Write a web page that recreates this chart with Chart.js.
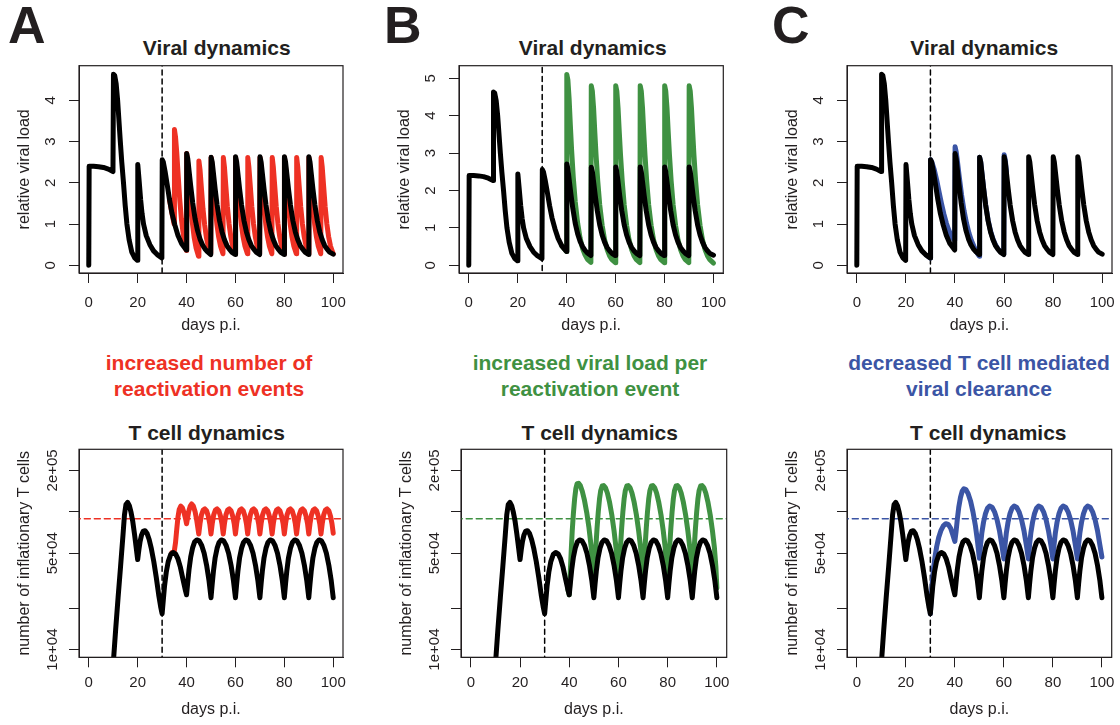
<!DOCTYPE html>
<html><head><meta charset="utf-8">
<script src="https://cdn.jsdelivr.net/npm/chart.js@4.4.1/dist/chart.umd.min.js"></script>
<style>
html,body{margin:0;padding:0;width:1120px;height:725px;overflow:hidden;background:#fff;font-family:"Liberation Sans",Arial,sans-serif;}
canvas{position:absolute;}
.t{position:absolute;font-weight:bold;color:#231f20;text-align:center;white-space:nowrap;}
.ttl{font-size:21px;line-height:25px;width:300px;}
.cap{font-size:21px;line-height:26px;width:360px;}
.let{font-size:52px;line-height:52px;text-align:left;}
</style></head><body>
<div class="t let" style="left:8px;top:-1px">A</div>
<div class="t let" style="left:384px;top:-1px">B</div>
<div class="t let" style="left:772px;top:-1px">C</div>
<div class="t ttl" style="left:66.7px;top:35.2px">Viral dynamics</div>
<div class="t ttl" style="left:442.8px;top:35.2px">Viral dynamics</div>
<div class="t ttl" style="left:834.2px;top:35.2px">Viral dynamics</div>
<div class="t ttl" style="left:56.7px;top:419.7px">T cell dynamics</div>
<div class="t ttl" style="left:449.7px;top:419.7px">T cell dynamics</div>
<div class="t ttl" style="left:838.3px;top:419.7px">T cell dynamics</div>
<div class="t cap" style="left:29px;top:349.7px;color:#ee3124">increased number of<br>reactivation events</div>
<div class="t cap" style="left:410px;top:349.7px;color:#3f9142">increased viral load per<br>reactivation event</div>
<div class="t cap" style="left:799px;top:349.7px;color:#3b55a5">decreased T cell mediated<br>viral clearance</div>
<canvas id="vA"></canvas><canvas id="vB"></canvas><canvas id="vC"></canvas>
<canvas id="tA"></canvas><canvas id="tB"></canvas><canvas id="tC"></canvas>
<script>
// ---------- axis ticks ----------
const xTickValues = [0, 20, 40, 60, 80, 100];
const viralTicksAC = [0, 1, 2, 3, 4];
const viralTicksB = [0, 1, 2, 3, 4, 5];
const tTickValues = [10000, 20000, 50000, 100000, 200000];
const tTickLabels = ['1e+04', '', '5e+04', '', '2e+05'];
const reactivationStart = [30];
const tThreshold = [89000];

// ---------- viral load, baseline model (black) ----------
const viralDays = [0,0.15,2,4,6,8,9.9,10.1,10.6,11.2,11.8,12.4,12.9,13.5,14.2,14.9,15.6,16.5,17.6,18.8,19.9,
 20.05,20.6,21.2,21.8,22.4,23.5,25,26.5,28,29.9,
 30.05,30.5,31.2,32.1,33,34,35.2,36.5,38,39.9,
 40.05,40.5,41,41.7,42.5,43.5,44.5,45.5,46.5,47.5,48.5,49.9,
 50.05,50.5,51,51.7,52.5,53.5,54.5,55.5,56.5,57.5,58.5,59.9,
 60.05,60.5,61,61.7,62.5,63.5,64.5,65.5,66.5,67.5,68.5,69.9,
 70.05,70.5,71,71.7,72.5,73.5,74.5,75.5,76.5,77.5,78.5,79.9,
 80.05,80.5,81,81.7,82.5,83.5,84.5,85.5,86.5,87.5,88.5,89.9,
 90.05,90.5,91,91.7,92.5,93.5,94.5,95.5,96.5,97.5,98.5,100];
const viralBaseline = [0,2.4,2.4,2.39,2.37,2.33,2.27,4.63,4.6,4.4,4.0,3.45,3.0,2.5,2.0,1.45,1.0,0.62,0.32,0.18,0.12,
 2.44,2.05,1.6,1.25,1.0,0.72,0.5,0.35,0.26,0.18,
 2.56,2.5,2.28,1.95,1.6,1.27,0.98,0.72,0.52,0.37,
 2.71,2.58,2.3,1.92,1.52,1.12,0.84,0.64,0.5,0.4,0.33,0.26,
 2.62,2.5,2.23,1.85,1.46,1.08,0.81,0.62,0.48,0.39,0.32,0.26,
 2.63,2.5,2.23,1.85,1.46,1.08,0.81,0.62,0.48,0.39,0.32,0.26,
 2.63,2.5,2.23,1.85,1.46,1.08,0.81,0.62,0.48,0.39,0.32,0.26,
 2.63,2.5,2.23,1.85,1.46,1.08,0.81,0.62,0.48,0.39,0.32,0.26,
 2.63,2.5,2.23,1.85,1.46,1.08,0.81,0.62,0.48,0.39,0.32,0.27];

// ---------- viral load, A: more reactivation events (red) ----------
const viralDaysA = [33,34,34.9,35.05,35.5,36,36.6,37.2,37.9,38.6,39.3,39.9,
 40.05,40.5,41.1,41.7,42.4,43.1,43.9,44.9,
 45.05,45.5,46.1,46.7,47.4,48.1,48.9,49.9,
 50.05,50.5,51.1,51.7,52.4,53.1,53.9,54.9,
 55.05,55.5,56.1,56.7,57.4,58.1,58.9,59.9,
 60.05,60.5,61.1,61.7,62.4,63.1,63.9,64.9,
 65.05,65.5,66.1,66.7,67.4,68.1,68.9,69.9,
 70.05,70.5,71.1,71.7,72.4,73.1,73.9,74.9,
 75.05,75.5,76.1,76.7,77.4,78.1,78.9,79.9,
 80.05,80.5,81.1,81.7,82.4,83.1,83.9,84.9,
 85.05,85.5,86.1,86.7,87.4,88.1,88.9,89.9,
 90.05,90.5,91.1,91.7,92.4,93.1,93.9,94.9,
 95.05,95.5,96.1,96.7,97.4,98.1,98.9,100];
const viralRed = [1.6,1.27,1.0,3.29,3.1,2.72,2.15,1.6,1.12,0.78,0.52,0.36,
 2.71,2.45,1.95,1.45,1.02,0.68,0.42,0.22,
 2.53,2.32,1.85,1.38,0.98,0.68,0.45,0.29,
 2.61,2.38,1.9,1.42,1.0,0.7,0.46,0.28,
 2.61,2.38,1.9,1.42,1.0,0.7,0.46,0.28,
 2.61,2.38,1.9,1.42,1.0,0.7,0.46,0.28,
 2.61,2.38,1.9,1.42,1.0,0.7,0.46,0.28,
 2.61,2.38,1.9,1.42,1.0,0.7,0.46,0.28,
 2.61,2.38,1.9,1.42,1.0,0.7,0.46,0.28,
 2.61,2.38,1.9,1.42,1.0,0.7,0.46,0.28,
 2.61,2.38,1.9,1.42,1.0,0.7,0.46,0.28,
 2.61,2.38,1.9,1.42,1.0,0.7,0.46,0.28,
 2.61,2.38,1.9,1.42,1.0,0.7,0.46,0.28];

// ---------- viral load, B: more virus per event (green) ----------
const viralDaysB = [38,39.9,
 40.05,40.5,41,41.5,42,42.7,43.5,44.5,45.5,46.5,47.5,48.5,49.9,
 50.05,50.5,51,51.5,52,52.7,53.5,54.5,55.5,56.5,57.5,58.5,59.9,
 60.05,60.5,61,61.5,62,62.7,63.5,64.5,65.5,66.5,67.5,68.5,69.9,
 70.05,70.5,71,71.5,72,72.7,73.5,74.5,75.5,76.5,77.5,78.5,79.9,
 80.05,80.5,81,81.5,82,82.7,83.5,84.5,85.5,86.5,87.5,88.5,89.9,
 90.05,90.5,91,91.5,92,92.7,93.5,94.5,95.5,96.5,97.5,98.5,100];
const viralGreen = [0.52,0.37,
 5.1,4.95,4.45,3.75,3.1,2.35,1.7,1.12,0.72,0.45,0.28,0.16,0.08,
 4.8,4.65,4.2,3.55,2.95,2.25,1.62,1.07,0.68,0.43,0.26,0.15,0.07,
 4.8,4.65,4.2,3.55,2.95,2.25,1.62,1.07,0.68,0.43,0.26,0.15,0.07,
 4.8,4.65,4.2,3.55,2.95,2.25,1.62,1.07,0.68,0.43,0.26,0.15,0.07,
 4.8,4.65,4.2,3.55,2.95,2.25,1.62,1.07,0.68,0.43,0.26,0.15,0.07,
 4.8,4.65,4.2,3.55,2.95,2.25,1.62,1.07,0.68,0.43,0.26,0.15,0.06];

// ---------- viral load, C: weaker T cell clearance (blue) ----------
const viralDaysC = [29,29.9,30.05,30.6,31.5,32.5,33.5,34.5,35.5,36.5,37.5,38.5,39.3,39.9,
 40.05,40.5,41,41.8,42.7,43.7,44.7,45.7,46.7,47.7,48.7,49.9,
 50.05,50.5,51,51.7,52.5,53.5,54.5,55.5,56.5,57.5,58.5,59.9,60.05,60.5,61];
const viralBlue = [0.22,0.18,2.56,2.5,2.33,2.08,1.78,1.5,1.24,1.02,0.85,0.72,0.64,0.6,
 2.87,2.75,2.52,2.12,1.7,1.32,1.02,0.78,0.6,0.46,0.33,0.22,
 2.62,2.5,2.23,1.86,1.47,1.1,0.83,0.64,0.5,0.4,0.33,0.27,2.68,2.55,2.27];

// ---------- T cells, baseline model (black) ----------
const tDays = [9.6,10.2,11,12,13,14,14.6,15.2,15.9,16.6,17.3,18,18.7,19.4,20,
 20.5,21,21.6,22.3,23,23.8,24.7,25.6,26.6,27.6,28.6,29.4,30,
 30.5,31,31.7,32.5,33.5,34.5,35.5,36.5,37.5,38.5,39.4,40,
 40.5,41,41.7,42.5,43.3,44.2,45.2,46.2,47.2,48.2,49.2,50,
 50.5,51,51.7,52.5,53.3,54.2,55.2,56.2,57.2,58.2,59.2,60,
 60.5,61,61.7,62.5,63.3,64.2,65.2,66.2,67.2,68.2,69.2,70,
 70.5,71,71.7,72.5,73.3,74.2,75.2,76.2,77.2,78.2,79.2,80,
 80.5,81,81.7,82.5,83.3,84.2,85.2,86.2,87.2,88.2,89.2,90,
 90.5,91,91.7,92.5,93.3,94.2,95.2,96.2,97.2,98.2,99.2,100];
const tBaseline = [6000,8800,14000,24000,40000,68000,95000,113000,117000,111000,99000,85000,69000,55000,45000,
 53000,61000,68000,72500,73000,70000,63000,54000,43500,33500,25000,20500,18200,
 23000,29000,36500,43500,49000,50700,49500,45500,39500,32500,27500,25000,
 31000,38000,47000,55000,60500,62500,61500,57000,50000,41000,31500,23800,
 30000,37000,46500,54500,60000,62500,61500,57000,50000,41000,31500,23800,
 30000,37000,46500,54500,60000,62500,61500,57000,50000,41000,31500,23800,
 30000,37000,46500,54500,60000,62500,61500,57000,50000,41000,31500,23800,
 30000,37000,46500,54500,60000,62500,61500,57000,50000,41000,31500,23800,
 30000,37000,46500,54500,60000,62500,61500,57000,50000,41000,31500,23800];

// ---------- T cells, A (red) ----------
const tDaysA = [34,34.5,35,35.5,36,36.5,37,37.6,38.3,39,39.6,40,
 40.4,40.9,41.5,42.1,42.8,43.5,44.2,45,
 45.5,46.1,46.8,47.5,48.2,48.9,49.5,50,
 50.5,51.1,51.8,52.5,53.2,53.9,54.5,55,
 55.5,56.1,56.8,57.5,58.2,58.9,59.5,60,
 60.5,61.1,61.8,62.5,63.2,63.9,64.5,65,
 65.5,66.1,66.8,67.5,68.2,68.9,69.5,70,
 70.5,71.1,71.8,72.5,73.2,73.9,74.5,75,
 75.5,76.1,76.8,77.5,78.2,78.9,79.5,80,
 80.5,81.1,81.8,82.5,83.2,83.9,84.5,85,
 85.5,86.1,86.8,87.5,88.2,88.9,89.5,90,
 90.5,91.1,91.8,92.5,93.2,93.9,94.5,95,
 95.5,96.1,96.8,97.5,98.2,98.9,99.5,100];
const tRed = [50500,50700,52000,60000,75000,92000,104000,110000,107000,98000,89000,82000,
 90000,101000,110000,114000,110000,100000,86000,69000,
 82000,95000,103000,105000,102000,93000,82000,69000,
 82000,95000,103000,105000,102000,93000,82000,69000,
 82000,95000,103000,105000,102000,93000,82000,69000,
 82000,95000,103000,105000,102000,93000,82000,69000,
 82000,95000,103000,105000,102000,93000,82000,69000,
 82000,95000,103000,105000,102000,93000,82000,69000,
 82000,95000,103000,105000,102000,93000,82000,69000,
 82000,95000,103000,105000,102000,93000,82000,69000,
 82000,95000,103000,105000,102000,93000,82000,69000,
 82000,95000,103000,105000,102000,93000,82000,69000,
 82000,95000,103000,105000,102000,93000,82000,70000];

// ---------- T cells, B (green) ----------
const tDaysB = [39.4,40,40.4,40.8,41.2,41.7,42.2,42.7,43.2,43.8,44.5,45.3,46.2,47.1,48,48.8,49.5,50,
 50.4,50.8,51.3,51.8,52.3,52.8,53.4,54,54.7,55.5,56.4,57.3,58.2,59,59.6,60,
 60.4,60.8,61.3,61.8,62.3,62.8,63.4,64,64.7,65.5,66.4,67.3,68.2,69,69.6,70,
 70.4,70.8,71.3,71.8,72.3,72.8,73.4,74,74.7,75.5,76.4,77.3,78.2,79,79.6,80,
 80.4,80.8,81.3,81.8,82.3,82.8,83.4,84,84.7,85.5,86.4,87.3,88.2,89,89.6,90,
 90.4,90.8,91.3,91.8,92.3,92.8,93.4,94,94.7,95.5,96.4,97.3,98.2,99,99.6,100];
const tGreen = [27500,25000,36000,52000,72000,98000,125000,148000,160000,161000,155000,141000,121000,99000,77000,58000,43000,29000,
 40000,55000,76000,100000,124000,143000,154000,155000,150000,137000,117000,95000,73000,55000,40000,28500,
 40000,55000,76000,100000,124000,143000,154000,155000,150000,137000,117000,95000,73000,55000,40000,28500,
 40000,55000,76000,100000,124000,143000,154000,155000,150000,137000,117000,95000,73000,55000,40000,28500,
 40000,55000,76000,100000,124000,143000,154000,155000,150000,137000,117000,95000,73000,55000,40000,28500,
 40000,55000,76000,100000,124000,143000,154000,155000,150000,137000,117000,95000,73000,55000,40000,28000];

// ---------- T cells, C (blue) ----------
const tDaysC = [30,30.4,30.8,31.3,31.9,32.6,33.4,34.3,35.3,36.3,37.3,38.3,39.2,40,
 40.5,41,41.6,42.3,43,43.7,44.5,45.4,46.4,47.4,48.4,49.3,50,
 50.5,51,51.7,52.5,53.3,54.2,55.2,56.2,57.2,58.2,59.2,60,
 60.5,61,61.7,62.5,63.3,64.2,65.2,66.2,67.2,68.2,69.2,70,
 70.5,71,71.7,72.5,73.3,74.2,75.2,76.2,77.2,78.2,79.2,80,
 80.5,81,81.7,82.5,83.3,84.2,85.2,86.2,87.2,88.2,89.2,90,
 90.5,91,91.7,92.5,93.3,94.2,95.2,96.2,97.2,98.2,99.2,100];
const tBlue = [18200,24000,31000,39000,47000,56000,65000,73000,79000,82000,81000,76000,68000,61000,
 72000,88000,108000,127000,141000,147000,145000,136000,120000,100000,79000,60000,46000,
 58000,70000,84000,97000,106000,110000,108000,100000,88000,73000,57000,45500,
 58000,70000,84000,97000,106000,110000,108000,100000,88000,73000,57000,45500,
 58000,70000,84000,97000,106000,110000,108000,100000,88000,73000,57000,45500,
 58000,70000,84000,97000,106000,110000,108000,100000,88000,73000,57000,45500,
 58000,70000,84000,97000,106000,110000,108000,100000,88000,73000,57000,47000];

// ---------- rendering ----------
const FONT = '"Liberation Sans", Arial, sans-serif';
const INK = '#231f20';
const RED = '#ee3124', GREEN = '#3f9142', BLUE = '#3b55a5';
const X_RANGE = [-4, 104];
const VIRAL_RANGE_AC = [-0.186, 4.836];
const VIRAL_RANGE_B = [-0.205, 5.335];
const T_RANGE = [8790, 284400];

const pts = (xs, ys) => xs.map((x, i) => ({x: x, y: ys[i]}));

const boxPlugin = {
  id: 'rbox',
  afterDraw(chart) {
    const a = chart.chartArea, c = chart.ctx;
    c.save(); c.strokeStyle = INK; c.lineWidth = 1.2;
    c.strokeRect(a.left, a.top, a.right - a.left, a.bottom - a.top);
    c.restore();
  }
};

function line(data, color, width, dash) {
  return {data: data, borderColor: color, borderWidth: width, borderDash: dash || [],
    pointRadius: 0, tension: 0, fill: false, borderCapStyle: 'round', borderJoinStyle: 'round', clip: 0};
}

function panel(id, c) {
  const cv = document.getElementById(id);
  const cl = c.box.l - 79;
  cv.width = c.w; cv.height = c.h;
  cv.style.left = cl + 'px'; cv.style.top = c.top + 'px';
  const xH = c.top + c.h - c.box.b;
  const yr = c.yRange;
  const datasets = [];
  datasets.push(line(pts(c.baseX, c.baseY), '#000', 5));
  datasets.push(line(pts(c.colX, c.colY), c.color, 5));
  datasets.push(line([{x: reactivationStart[0], y: c.log ? 1000 : -10}, {x: reactivationStart[0], y: c.log ? 1e7 : 20}], '#000', 1.5, [5, 4]));
  if (c.threshold) datasets.push(line([{x: -10, y: tThreshold[0]}, {x: 110, y: tThreshold[0]}], c.color, 1.5, [6, 4]));
  new Chart(cv, {
    type: 'line',
    data: {datasets: datasets},
    plugins: [boxPlugin],
    options: {
      responsive: false, animation: false, events: [],
      layout: {padding: {left: 0, top: c.box.t - c.top, right: cl + c.w - c.box.r, bottom: 0}},
      plugins: {legend: {display: false}, tooltip: {enabled: false}, title: {display: false}},
      scales: {
        x: {
          type: 'linear', min: X_RANGE[0], max: X_RANGE[1],
          afterBuildTicks: s => { s.ticks = xTickValues.map(v => ({value: v})); },
          afterFit: s => { s.height = xH; },
          grid: {display: true, drawOnChartArea: false, drawTicks: true, tickLength: 10, color: INK, lineWidth: 1},
          border: {display: true, color: INK, width: 1},
          ticks: {autoSkip: false, maxRotation: 0, minRotation: 0, padding: c.xTickPad, color: INK,
            font: {family: FONT, size: 15}, callback: v => String(v)},
          title: {display: true, text: 'days p.i.', color: INK, font: {family: FONT, size: 16},
            padding: {top: 0, bottom: c.xTitlePad}}
        },
        y: {
          type: c.log ? 'logarithmic' : 'linear', min: yr[0], max: yr[1],
          afterBuildTicks: s => { s.ticks = c.yTicks.map(v => ({value: v})); },
          afterFit: s => { s.width = 79; },
          grid: {display: true, drawOnChartArea: false, drawTicks: true, tickLength: 10, color: INK, lineWidth: 1},
          border: {display: true, color: INK, width: 1},
          ticks: {autoSkip: false, minRotation: 90, maxRotation: 90, crossAlign: 'center', padding: c.yTickPad, color: INK,
            font: {family: FONT, size: 15},
            callback: v => c.log ? tTickLabels[tTickValues.indexOf(v)] : String(v)},
          title: {display: true, text: c.yTitle, color: INK, font: {family: FONT, size: 16},
            padding: {top: 15.4, bottom: 0}}
        }
      }
    }
  });
}

const topCommon = {top: 20, h: 330, w: 380, xTickPad: 10.5, xTitlePad: 14.4, yTickPad: 13.8,
  yTitle: 'relative viral load', log: false, baseX: viralDays, baseY: viralBaseline};
const botCommon = {top: 400, h: 325, w: 380, xTickPad: 6.5, xTitlePad: 5.4, yTickPad: -4.56,
  yTitle: 'number of inflationary T cells', log: true, yRange: T_RANGE, yTicks: tTickValues,
  baseX: tDays, baseY: tBaseline, threshold: true};

panel('vA', Object.assign({}, topCommon, {box: {l: 79, r: 343, t: 65.7, b: 273}, yRange: VIRAL_RANGE_AC, yTicks: viralTicksAC,
  colX: viralDaysA, colY: viralRed, color: RED}));
panel('vB', Object.assign({}, topCommon, {box: {l: 458.7, r: 723, t: 65.7, b: 273}, yRange: VIRAL_RANGE_B, yTicks: viralTicksB,
  colX: viralDaysB, colY: viralGreen, color: GREEN}));
panel('vC', Object.assign({}, topCommon, {box: {l: 846.7, r: 1111.7, t: 65.7, b: 273}, yRange: VIRAL_RANGE_AC, yTicks: viralTicksAC,
  colX: viralDaysC, colY: viralBlue, color: BLUE}));
panel('tA', Object.assign({}, botCommon, {box: {l: 79, r: 343, t: 449.3, b: 657.3}, colX: tDaysA, colY: tRed, color: RED}));
panel('tB', Object.assign({}, botCommon, {box: {l: 461, r: 726.7, t: 449.3, b: 657.3}, colX: tDaysB, colY: tGreen, color: GREEN}));
panel('tC', Object.assign({}, botCommon, {box: {l: 847, r: 1111.7, t: 449.3, b: 657.3}, colX: tDaysC, colY: tBlue, color: BLUE}));
</script>
</body></html>
